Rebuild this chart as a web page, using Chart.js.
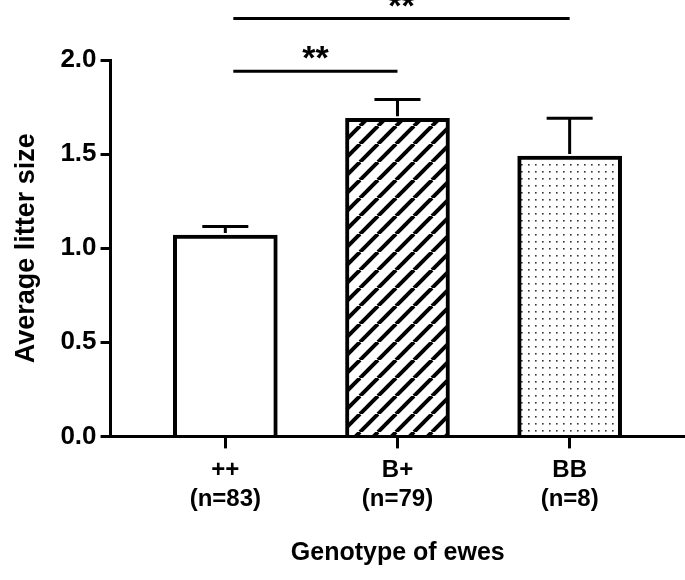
<!DOCTYPE html>
<html><head><meta charset="utf-8">
<script src="https://cdn.jsdelivr.net/npm/chart.js@4/dist/chart.umd.min.js"></script>
<style>html,body{margin:0;padding:0;background:#fff}#w{width:685px;height:580px}</style>
</head><body><div id="w"><canvas id="c"></canvas></div>
<script>
const categories = ["++","B+","BB"];
const sampleSizes = ["(n=83)","(n=79)","(n=8)"];
const means = [1.07, 1.69, 1.49];
const sems = [0.045, 0.10, 0.20];
const yTicks = [0, 0.5, 1.0, 1.5, 2.0];
const sigPairs = [[0,1,1.94,"**"],[0,2,2.22,"**"]];
const NF='"Liberation Sans Narrow","Liberation Sans",Arial';

function hatch(){const c=document.createElement('canvas');c.width=c.height=18;const g=c.getContext('2d');
g.fillStyle='#fff';g.fillRect(0,0,18,18);g.strokeStyle='#000';g.lineWidth=4;
for(const o of [-18,0,18]){g.beginPath();g.moveTo(o,18);g.lineTo(o+18,0);g.stroke();}
return g.createPattern(c,'repeat');}
function dots(){const c=document.createElement('canvas');c.width=c.height=7;const g=c.getContext('2d');
g.fillStyle='#fff';g.fillRect(0,0,7,7);g.fillStyle='#333';g.fillRect(3,3,1.6,1.6);return g.createPattern(c,'repeat');}
const fills=['#fff',hatch(),dots()];

const extras={id:'extras',afterDatasetsDraw(ch){
 const g=ch.ctx,xs=ch.scales.x,ys=ch.scales.y;g.save();g.strokeStyle='#000';
 means.forEach((m,i)=>{const x=xs.getPixelForValue(i+1),y0=ys.getPixelForValue(m),y1=ys.getPixelForValue(m+sems[i]);
  g.lineWidth=3;g.beginPath();g.moveTo(x,y0-2);g.lineTo(x,y1);g.moveTo(x-23,y1);g.lineTo(x+23,y1);g.stroke();});
 g.fillStyle='#000';g.font='bold 34px "Liberation Sans"';g.textAlign='center';
 sigPairs.forEach(([a,b,v,t])=>{const y=ys.getPixelForValue(v);const xa=xs.getPixelForValue(a+1)+8,xb=xs.getPixelForValue(b+1);
  g.lineWidth=3;g.beginPath();g.moveTo(xa,y);g.lineTo(xb,y);g.stroke();g.fillText(t,(xa+xb)/2,y-2);});
 g.restore();}};

new Chart(document.getElementById('c'),{type:'bar',
 data:{datasets:[{data:means.map((m,i)=>({x:i+1,y:m})),backgroundColor:fills,borderColor:'#000',borderWidth:4,borderSkipped:'bottom',barThickness:104}]},
 options:{responsive:true,maintainAspectRatio:false,animation:false,
  layout:{padding:{top:60,right:0,left:6,bottom:8}},
  plugins:{legend:{display:false},tooltip:{enabled:false}},
  scales:{
   x:{type:'linear',offset:false,min:1/3,max:3.67,afterBuildTicks(s){s.ticks=[1,2,3].map(v=>({value:v}));},
    border:{color:'#000',width:3},grid:{offset:false,drawOnChartArea:false,color:'#000',lineWidth:3,tickLength:12},
    ticks:{color:'#000',font:{family:NF,weight:'bold',size:24},padding:8,autoSkip:false,maxRotation:0,
     callback:v=>[categories[v-1],sampleSizes[v-1]]},
    title:{display:true,text:'Genotype of ewes',color:'#000',font:{family:'Liberation Sans',weight:'bold',size:25},padding:{top:16}}},
   y:{min:0,max:2,afterBuildTicks(s){s.ticks=yTicks.map(v=>({value:v}));},
    border:{color:'#000',width:3},grid:{drawOnChartArea:false,color:'#000',lineWidth:3,tickLength:10},
    ticks:{color:'#000',font:{family:NF,weight:'bold',size:26},padding:4,callback:v=>v.toFixed(1)},
    title:{display:true,text:'Average litter size',color:'#000',font:{family:'Liberation Sans',weight:'bold',size:27},padding:{bottom:14}}}}},
 plugins:[extras]});
</script></body></html>
